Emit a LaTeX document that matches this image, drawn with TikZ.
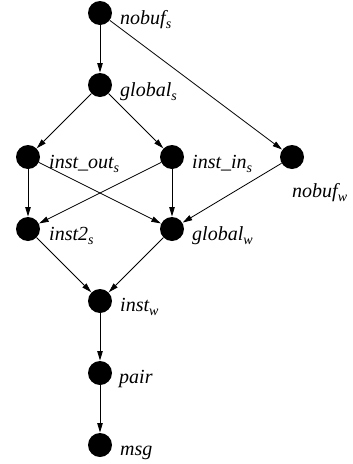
\documentclass[tikz,border=0pt]{standalone}
\usepackage{fontspec}
\setmainfont{Liberation Serif}
\usetikzlibrary{arrows.meta}
% lowered, smaller subscript in the running italic
\newcommand{\lowsub}[1]{\raisebox{-0.2em}{\fontsize{14}{16}\selectfont #1}}
\tikzset{
  state/.style={circle, fill=black, draw=none, minimum size=24pt, inner sep=0pt},
  statelabel/.style={anchor=base west, inner sep=0pt, font=\fontsize{20}{23}\selectfont\itshape},
  edge/.style={draw=black, line width=0.8pt, -{Triangle[length=9.5pt,width=5.5pt]}, shorten >=0.3pt}
}
\begin{document}
\begin{tikzpicture}[x=1pt, y=-1pt]
  \useasboundingbox (0,0) rectangle (353,464);

  % states
  \node[state] (nobufs)  at (100,13)  {};
  \node[state] (globals) at (100,85)  {};
  \node[state] (instouts) at (28,157) {};
  \node[state] (instins) at (172,157) {};
  \node[state] (nobufw)  at (292,157) {};
  \node[state] (inst2s)  at (28,229)  {};
  \node[state] (globalw) at (172,229) {};
  \node[state] (instw)   at (100,301) {};
  \node[state] (pair)    at (100,373) {};
  \node[state] (msg)     at (100,445) {};

  % labels
  \node[statelabel] (l-nobufs)   at (120,24)  {nobuf\lowsub{s}};
  \node[statelabel] (l-globals)  at (120,96)  {global\lowsub{s}};
  \node[statelabel] (l-instouts) at (49,168)  {inst\_out\lowsub{s}};
  \node[statelabel] (l-instins)  at (192,168) {inst\_in\lowsub{s}};
  \node[statelabel] (l-nobufw)   at (292,197) {nobuf\lowsub{w}};
  \node[statelabel] (l-inst2s)   at (49,240)  {inst2\lowsub{s}};
  \node[statelabel] (l-globalw)  at (192,240) {global\lowsub{w}};
  \node[statelabel] (l-instw)    at (120,311) {inst\lowsub{w}};
  \node[statelabel] (l-pair)     at (119,383) {pair};
  \node[statelabel] (l-msg)      at (120,455) {msg};

  % transitions
  \draw[edge] (nobufs) -- (globals);
  \draw[edge] (nobufs) -- (nobufw);
  \draw[edge] (globals) -- (instouts);
  \draw[edge] (globals) -- (instins);
  \draw[edge] (instouts) -- (inst2s);
  \draw[edge] (instouts) -- (globalw);
  \draw[edge] (instins) -- (inst2s);
  \draw[edge] (instins) -- (globalw);
  \draw[edge] (nobufw) -- (globalw);
  \draw[edge] (inst2s) -- (instw);
  \draw[edge] (globalw) -- (instw);
  \draw[edge] (instw) -- (pair);
  \draw[edge] (pair) -- (msg);
\end{tikzpicture}
\end{document}
